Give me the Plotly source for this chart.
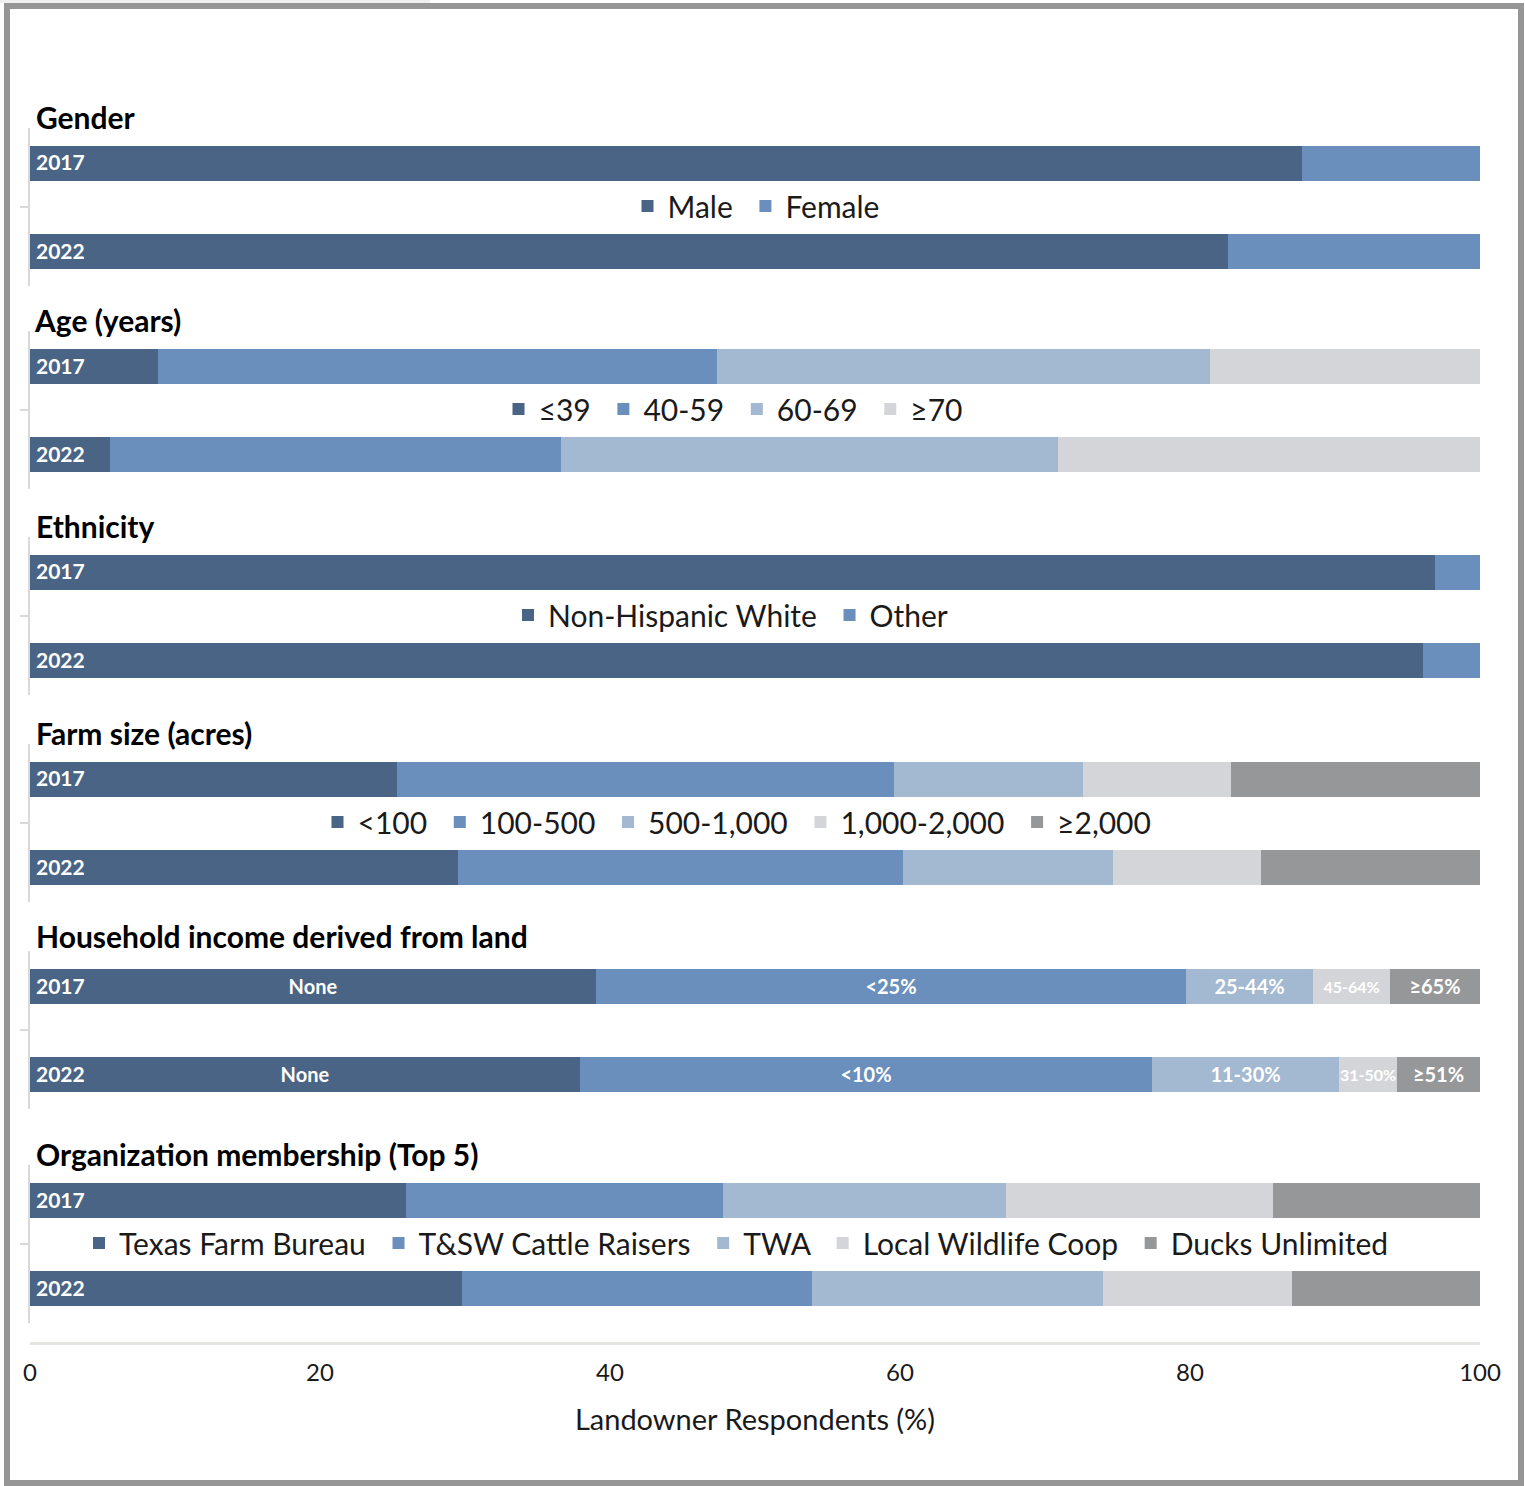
import plotly.graph_objects as go

# ---------------- data ----------------
YEARS = ["2017", "2022"]

gender_cats = ["Male", "Female"]
gender_2017 = [87.7, 12.3]
gender_2022 = [82.6, 17.4]

age_cats = ["≤39", "40-59", "60-69", "≥70"]
age_2017 = [8.8, 38.6, 34.0, 18.6]
age_2022 = [5.5, 31.1, 34.3, 29.1]

eth_cats = ["Non-Hispanic White", "Other"]
eth_2017 = [96.9, 3.1]
eth_2022 = [96.1, 3.9]

farm_cats = ["<100", "100-500", "500-1,000", "1,000-2,000", "≥2,000"]
farm_2017 = [25.3, 34.3, 13.0, 10.2, 17.2]
farm_2022 = [29.5, 30.7, 14.5, 10.2, 15.1]

income_labels_2017 = ["None", "<25%", "25-44%", "45-64%", "≥65%"]
income_labels_2022 = ["None", "<10%", "11-30%", "31-50%", "≥51%"]
income_2017 = [39.0, 40.7, 8.8, 5.3, 6.2]
income_2022 = [37.9, 39.5, 12.9, 4.0, 5.7]

org_cats = ["Texas Farm Bureau", "T&SW Cattle Raisers", "TWA", "Local Wildlife Coop", "Ducks Unlimited"]
org_2017 = [25.9, 21.9, 19.5, 18.4, 14.3]
org_2022 = [29.8, 24.1, 20.1, 13.0, 13.0]

section_titles = ["Gender", "Age (years)", "Ethnicity", "Farm size (acres)",
                  "Household income derived from land", "Organization membership (Top 5)"]

x_ticks = [0, 20, 40, 60, 80, 100]
x_title = "Landowner Respondents (%)"

# ---------------- styling / layout constants ----------------
COLORS = ["#4A6485", "#6A8FBD", "#A3B8D1", "#D4D5D9", "#969798"]
FONT = "Lato, 'Open Sans', sans-serif"

W, H = 1525, 1486
ML, MR, MT, MB = 30, 45, 0, 143
PW, PH = W - ML - MR, H - MT - MB

def xf(px):
    return (px - ML) / PW

def yf(py):
    return (H - MB - py) / PH

# pixel centre of the 2017 bar in each section; 2022 bar is one step below
SECTION_Y = [163, 366, 572, 779, 986, 1200]
TITLE_DY = [-46, -46, -46, -46, -50, -46]
LEGEND_CX = [760, 737, 734, 741, None, 740]
STEP = 88           # px between the two bars of a section
BAR_W = 0.4         # bar thickness (category units)
PAD = 0.4           # range padding around categories

sections = [
    (gender_cats, gender_2017, gender_2022, None, None),
    (age_cats, age_2017, age_2022, None, None),
    (eth_cats, eth_2017, eth_2022, None, None),
    (farm_cats, farm_2017, farm_2022, None, None),
    (income_labels_2017, income_2017, income_2022, income_labels_2017, income_labels_2022),
    (org_cats, org_2017, org_2022, None, None),
]

fig = go.Figure()
layout_extra = {}
annotations = []
legend_no = 0

for i, (cats, v17, v22, lab17, lab22) in enumerate(sections):
    yname = "y" if i == 0 else f"y{i+1}"
    ykey = "yaxis" if i == 0 else f"yaxis{i+1}"
    has_legend = lab17 is None
    if has_legend:
        legend_no += 1
        lname = "legend" if legend_no == 1 else f"legend{legend_no}"
    for j, cat in enumerate(cats):
        kw = {}
        if lab17 is not None:
            small = j == 3
            kw = dict(
                text=[lab17[j], lab22[j]],
                textposition="inside",
                insidetextanchor="middle",
                textangle=0,
                constraintext="none",
                textfont=dict(family=FONT, color="white", size=16 if small else 20, weight="bold"),
            )
        fig.add_trace(go.Bar(
            orientation="h", y=YEARS, x=[v17[j], v22[j]],
            name=cat + "\u00a0",
            marker=dict(color=COLORS[j], line=dict(width=0)),
            width=BAR_W, xaxis="x", yaxis=yname,
            showlegend=has_legend,
            legend=lname if has_legend else None,
            hovertemplate="%{y}: %{x:.1f}%<extra>" + cat + "</extra>",
            **kw,
        ))
    py17 = SECTION_Y[i]
    top_px = py17 - PAD * STEP
    bot_px = py17 + STEP + PAD * STEP
    layout_extra[ykey] = dict(
        domain=[yf(bot_px), yf(top_px)],
        type="category", categoryorder="array", categoryarray=YEARS,
        range=[1 + PAD, -PAD], anchor="x",
        showline=True, linecolor="#D9D9D9", linewidth=2,
        tickson="boundaries", ticks="outside", ticklen=8, tickcolor="#D9D9D9", tickwidth=2,
        showticklabels=False, showgrid=False, zeroline=False, fixedrange=True,
    )
    if has_legend:
        layout_extra[lname] = dict(
            orientation="h", x=xf(LEGEND_CX[i]), xanchor="center", xref="paper",
            y=yf(py17 + STEP / 2 - 1), yanchor="middle", yref="paper",
            font=dict(family=FONT, size=30, color="#1A1A1A"),
            bgcolor="rgba(0,0,0,0)", traceorder="normal",
            itemclick=False, itemdoubleclick=False,
        )
    # section title
    annotations.append(dict(
        text=f"<b>{section_titles[i]}</b>", xref="paper", yref="paper",
        x=xf(34 if i != 1 else 32), y=yf(py17 + TITLE_DY[i]), xanchor="left", yanchor="middle",
        showarrow=False, font=dict(family=FONT, size=30, color="#000000"),
    ))
    # year labels inside bars
    for k, yr in enumerate(YEARS):
        annotations.append(dict(
            text=f"<b>{yr}</b>", xref="paper", yref="paper",
            x=xf(34), y=yf(py17 + k * STEP - 1),
            xanchor="left", yanchor="middle", showarrow=False,
            font=dict(family=FONT, size=21, color="white"),
        ))

shapes = [
    dict(type="rect", xref="paper", yref="paper", x0=xf(0), x1=xf(430), y0=yf(0), y1=yf(3),
         line=dict(width=0), fillcolor="#EFEFEF", layer="below"),
    dict(type="rect", xref="paper", yref="paper", x0=xf(7), x1=xf(1521), y0=yf(6), y1=yf(1483),
         line=dict(color="#969696", width=6), fillcolor="rgba(0,0,0,0)", layer="above"),
]

fig.update_layout(
    width=W, height=H,
    margin=dict(l=ML, r=MR, t=MT, b=MB, pad=0),
    paper_bgcolor="white", plot_bgcolor="white",
    barmode="stack", bargap=0,
    font=dict(family=FONT, color="#1A1A1A"),
    xaxis=dict(
        range=[0, 100], anchor="free", position=0,
        tickmode="array", tickvals=x_ticks, ticktext=[str(t) for t in x_ticks],
        showline=True, linecolor="#E4E4E0", linewidth=3,
        ticks="", ticklabelstandoff=7,
        showgrid=False, zeroline=False, fixedrange=True,
        tickfont=dict(family=FONT, size=24, color="#1A1A1A"),
        title=dict(text=x_title, font=dict(family=FONT, size=29, color="#1A1A1A"), standoff=24),
    ),
    annotations=annotations,
    shapes=shapes,
    **layout_extra,
)

fig.write_html("out.html")
